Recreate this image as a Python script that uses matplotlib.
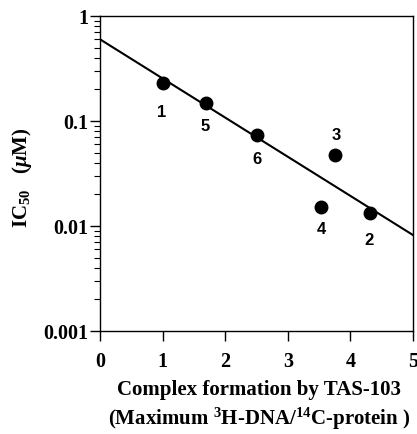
import matplotlib
matplotlib.use("Agg")
import matplotlib.pyplot as plt
import numpy as np

# Data
labels = ["1", "5", "6", "3", "4", "2"]
x_vals = [1.01, 1.69, 2.51, 3.75, 3.53, 4.31]
ic50 = [0.23, 0.148, 0.0736, 0.0474, 0.0152, 0.0133]
# label offsets in pixels (dx, dy) relative to the point
label_dy = [-28, -22, -24, 21, -22, -27]
label_dx = [-2, -1, 0, 2, 0, -1]
fit_x = [0, 5]
fit_y = [0.60, 0.0082]
x_ticks = [0, 1, 2, 3, 4, 5]
y_ticks = [0.001, 0.01, 0.1, 1]
y_tick_labels = ['0.001', '0.01', '0.1', '1']

plt.rcParams['mathtext.fontset'] = 'custom'
plt.rcParams['mathtext.rm'] = 'Liberation Serif:bold'
plt.rcParams['mathtext.it'] = 'Liberation Serif:bold:italic'
plt.rcParams['mathtext.bf'] = 'Liberation Serif:bold'

serif = dict(family='Liberation Serif', weight='bold')

fig = plt.figure(figsize=(4.17, 4.35), dpi=100)
ax = fig.add_axes([100 / 417, 1 - 332 / 435, 313 / 417, 315 / 435])

ax.plot(fit_x, fit_y, color='black', lw=1.5)
ax.plot(x_vals, ic50, 'o', color='black', ms=9)
for lab, x, y, dx, dy in zip(labels, x_vals, ic50, label_dx, label_dy):
    ax.annotate(lab, (x, y), xytext=(dx * 0.72, dy * 0.72), textcoords='offset points',
                ha='center', va='center', fontsize=12,
                fontfamily='Liberation Sans', fontweight='bold')

ax.set_yscale('log')
ax.set_xlim(0, 5)
ax.set_ylim(0.001, 1)
ax.set_xticks(x_ticks)
ax.set_yticks(y_ticks)
ax.set_yticklabels(y_tick_labels)
ax.set_xticklabels([str(v) for v in x_ticks])
for t in ax.get_xticklabels() + ax.get_yticklabels():
    t.set_fontfamily('Liberation Serif')
    t.set_fontweight('bold')
    t.set_fontsize(14.5)

ax.tick_params(axis='y', which='major', direction='out', length=7.5, width=1, pad=1)
ax.tick_params(axis='x', which='major', direction='out', length=7, width=1, pad=7.5)
ax.tick_params(axis='y', which='minor', direction='out', length=4.5, width=0.8)
ax.tick_params(axis='x', which='minor', bottom=False)
for s in ax.spines.values():
    s.set_linewidth(1)

fig.text(22 / 417, 1 - 178 / 435, r'IC$_{50}$   ($\mu$M)', rotation=90, ha='center',
         va='center', fontsize=15, **serif)
fig.text(259 / 417, 1 - 395 / 435, 'Complex formation by TAS-103', ha='center',
         va='baseline', fontsize=15, **serif)
fig.text(259 / 417, 1 - 425 / 435, r'(Maximum $^{3}$H-DNA/$^{14}$C-protein )', ha='center',
         va='baseline', fontsize=15, **serif)

fig.savefig('out.png', dpi=100)
